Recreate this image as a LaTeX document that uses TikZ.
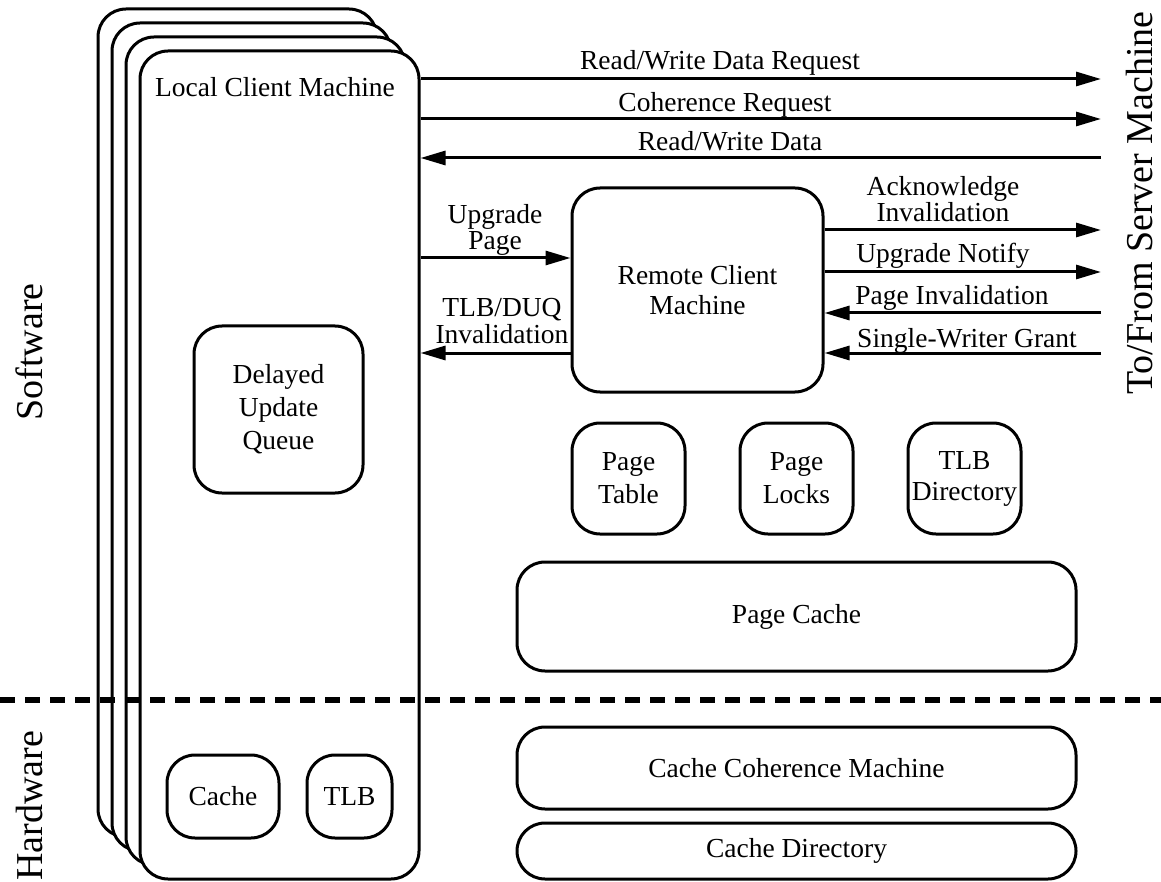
\documentclass[tikz,border=0pt]{standalone}
\usepackage{fontspec}
\setmainfont{Liberation Serif}
\usetikzlibrary{arrows.meta}
\begin{document}
\begin{tikzpicture}[x=1pt,y=-1pt,line width=3pt,
  box/.style={draw,rounded corners=28pt,fill=white,inner sep=0pt,align=center,
    font=\fontsize{27.5}{33}\selectfont},
  lbl/.style={font=\fontsize{27.5}{26.5}\selectfont,align=center,inner sep=0pt},
  side/.style={font=\fontsize{38}{40}\selectfont,inner sep=0pt,rotate=90,anchor=base},
  arr/.style={-{Triangle[length=25pt,width=14pt]}}]
\useasboundingbox (0,0) rectangle (1161,882);
% stacked local client machines
\node[box,minimum width=279pt,minimum height=828pt] (b1) at (237.5,423) {};
\node[box,minimum width=279pt,minimum height=828pt] (b2) at (251.5,437) {};
\node[box,minimum width=279pt,minimum height=828pt] (b3) at (265.5,451) {};
\node[box,minimum width=279pt,minimum height=828pt] (lcm) at (279.5,465) {};
\node[lbl,anchor=base] (lcmlabel) at (275,97) {Local Client Machine};
\node[box,minimum width=169pt,minimum height=167pt] (duq) at (278.5,409.5) {Delayed\\Update\\Queue};
\node[box,minimum width=112pt,minimum height=83pt] (cache) at (223,796.5) {Cache};
\node[box,minimum width=85pt,minimum height=83pt] (tlb) at (349.5,796.5) {TLB};
% remote side
\node[box,minimum width=251pt,minimum height=204pt,font=\fontsize{27.5}{30}\selectfont] (rcm) at (697.5,290) {Remote Client\\Machine};
\node[box,minimum width=113pt,minimum height=111pt] (pt) at (628.5,478.5) {Page\\Table};
\node[box,minimum width=113pt,minimum height=111pt] (pl) at (796.5,478.5) {Page\\Locks};
\node[box,minimum width=113pt,minimum height=111pt,font=\fontsize{27.5}{31}\selectfont] (tlbd) at (964.5,478.5) {TLB\\Directory};
\node[box,minimum width=559pt,minimum height=109pt] (pc) at (796.5,616.5) {Page Cache};
\node[box,minimum width=559pt,minimum height=82pt] (ccm) at (796.5,768) {Cache Coherence Machine};
\node[box,minimum width=559pt,minimum height=56pt] (cd) at (796.5,851) {Cache Directory};
% server-side free ends
\coordinate (sA) at (1101,79);
\coordinate (sB) at (1101,119);
\coordinate (sC) at (1101,158);
\coordinate (sD) at (1101,230);
\coordinate (sE) at (1101,272);
\coordinate (sF) at (1101,313);
\coordinate (sG) at (1101,353);
\coordinate (yUp) at (0,258);
\coordinate (yTl) at (0,353);
% connectors
\draw[arr] (lcm.east |- sA) -- (sA);
\draw[arr] (lcm.east |- sB) -- (sB);
\draw[arr] (sC) -- (lcm.east |- sC);
\draw[arr] (lcm.east |- yUp) -- (rcm.west |- yUp);
\draw[arr] (rcm.west |- yTl) -- (lcm.east |- yTl);
\draw[arr] (rcm.east |- sD) -- (sD);
\draw[arr] (rcm.east |- sE) -- (sE);
\draw[arr] (sF) -- (rcm.east |- sF);
\draw[arr] (sG) -- (rcm.east |- sG);
% labels
\node[lbl,anchor=base] (lA) at (720,70) {Read/Write Data Request};
\node[lbl,anchor=base] (lB) at (725,112) {Coherence Request};
\node[lbl,anchor=base] (lC) at (730,151) {Read/Write Data};
\node[lbl] (lUp) at (495,230) {Upgrade\\Page};
\node[lbl] (lTl) at (502,321) {TLB/DUQ\\Invalidation};
\node[lbl] (lD) at (943,199) {Acknowledge\\Invalidation};
\node[lbl,anchor=base] (lE) at (943,263) {Upgrade Notify};
\node[lbl,anchor=base] (lF) at (952,305) {Page Invalidation};
\node[lbl,anchor=base] (lG) at (967,347) {Single-Writer Grant};
% divider
\draw[line width=6pt,dash pattern=on 15pt off 10pt] (0,700) -- (1161,700);
% side labels
\node[side] (sw) at (42,352) {Software};
\node[side] (hw) at (42,806) {Hardware};
\node[side] (srv) at (1152,203) {To/From Server Machine};
\end{tikzpicture}
\end{document}
